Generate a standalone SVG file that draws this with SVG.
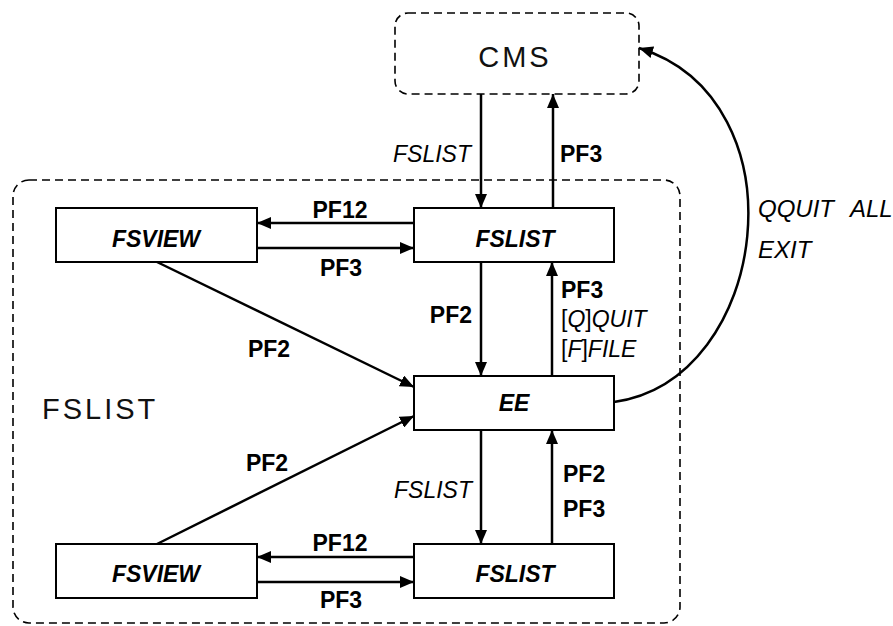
<svg xmlns="http://www.w3.org/2000/svg" width="893" height="626" viewBox="0 0 893 626">
<style>
.box{fill:#fff;stroke:#000;stroke-width:2}
.dash{fill:none;stroke:#000;stroke-width:1.6;stroke-dasharray:8 5}
.edge{fill:none;stroke:#000;stroke-width:2.5}
.lbl{font-family:"Liberation Sans",Arial,sans-serif;font-size:23px;fill:#000}
.b{font-weight:bold}
.i{font-style:italic}
.node{font-family:"Liberation Sans",Arial,sans-serif;font-size:23px;font-weight:bold;font-style:italic;text-anchor:middle}
.big{font-family:"Liberation Sans",Arial,sans-serif;font-size:29px;letter-spacing:3px;fill:#111}
.c{text-anchor:middle}
.e{text-anchor:end}
</style>
<defs>
<marker id="ah" markerUnits="userSpaceOnUse" viewBox="0 0 14 12" markerWidth="14" markerHeight="12" refX="14" refY="6" orient="auto">
<path d="M0,0 L14,6 L0,12 z" fill="#000"/>
</marker>
</defs>

<g id="cms">
<rect class="dash" x="395" y="13" width="244" height="81" rx="13"/>
<text class="big c" x="515" y="67">CMS</text>
</g>

<g id="fslist-group">
<rect class="dash" x="13" y="180" width="667" height="443" rx="16"/>
<text class="big" x="42" y="419">FSLIST</text>
</g>

<g id="fsview1">
<rect class="box" x="56" y="208" width="201" height="54"/>
<text class="node" x="156" y="247">FSVIEW</text>
</g>
<g id="fslist1">
<rect class="box" x="414" y="208" width="200" height="54"/>
<text class="node" x="515" y="247">FSLIST</text>
</g>
<g id="ee">
<rect class="box" x="414" y="376" width="200" height="54"/>
<text class="node" x="514" y="411">EE</text>
</g>
<g id="fsview2">
<rect class="box" x="56" y="544" width="201" height="54"/>
<text class="node" x="156" y="582">FSVIEW</text>
</g>
<g id="fslist2">
<rect class="box" x="414" y="544" width="200" height="54"/>
<text class="node" x="515" y="582">FSLIST</text>
</g>

<g id="connectors">
<line class="edge" x1="481" y1="94" x2="481" y2="208" marker-end="url(#ah)"/>
<line class="edge" x1="553" y1="208" x2="553" y2="94" marker-end="url(#ah)"/>
<line class="edge" x1="414" y1="223" x2="257" y2="223" marker-end="url(#ah)"/>
<line class="edge" x1="257" y1="248" x2="414" y2="248" marker-end="url(#ah)"/>
<line class="edge" x1="481" y1="262" x2="481" y2="376" marker-end="url(#ah)"/>
<line class="edge" x1="552" y1="376" x2="552" y2="262" marker-end="url(#ah)"/>
<line class="edge" x1="157" y1="262" x2="414" y2="387" marker-end="url(#ah)"/>
<line class="edge" x1="157" y1="544" x2="414" y2="416" marker-end="url(#ah)"/>
<line class="edge" x1="481" y1="430" x2="481" y2="544" marker-end="url(#ah)"/>
<line class="edge" x1="552" y1="544" x2="552" y2="430" marker-end="url(#ah)"/>
<line class="edge" x1="414" y1="557" x2="257" y2="557" marker-end="url(#ah)"/>
<line class="edge" x1="257" y1="582" x2="414" y2="582" marker-end="url(#ah)"/>
<path class="edge" d="M614,402 C770,380 805,100 639,48" marker-end="url(#ah)"/>

<text class="lbl i e" x="471" y="162">FSLIST</text>
<text class="lbl b" x="560" y="162">PF3</text>
<text class="lbl b c" x="340" y="218">PF12</text>
<text class="lbl b c" x="341" y="276">PF3</text>
<text class="lbl b c" x="269" y="357">PF2</text>
<text class="lbl b e" x="472" y="323">PF2</text>
<text class="lbl b" x="561" y="298">PF3</text>
<text class="lbl" x="561" y="327">[<tspan class="i">Q</tspan>]<tspan class="i">QUIT</tspan></text>
<text class="lbl" x="561" y="357">[<tspan class="i">F</tspan>]<tspan class="i">FILE</tspan></text>
<text class="lbl i" x="758" y="217" style="font-size:24px">QQUIT<tspan x="850">ALL</tspan></text>
<text class="lbl i" x="758" y="258" style="font-size:24px">EXIT</text>
<text class="lbl b c" x="267" y="471">PF2</text>
<text class="lbl i e" x="472" y="498">FSLIST</text>
<text class="lbl b" x="563" y="482">PF2</text>
<text class="lbl b" x="563" y="517">PF3</text>
<text class="lbl b c" x="340" y="551">PF12</text>
<text class="lbl b c" x="341" y="608">PF3</text>
</g>
</svg>
